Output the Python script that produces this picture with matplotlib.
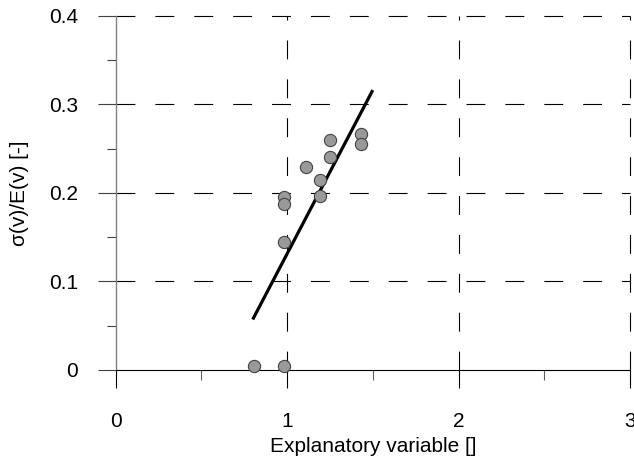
import matplotlib
matplotlib.use("Agg")
import matplotlib.pyplot as plt

# observations
x_obs = [0.98, 0.98, 1.11, 1.25, 1.25, 1.19, 1.19, 1.43, 1.43, 0.98, 0.81, 0.98]
y_obs = [0.195, 0.187, 0.229, 0.260, 0.240, 0.215, 0.197, 0.266, 0.255, 0.145, 0.005, 0.004]

# fitted line
fit_x = [0.80, 1.50]
fit_y = [0.057, 0.316]

x_ticks = [0, 1, 2, 3]
x_tick_labels = ["0", "1", "2", "3"]
x_minor = [0.5, 1.5, 2.5]
y_ticks = [0, 0.1, 0.2, 0.3, 0.4]
y_tick_labels = ["0", "0.1", "0.2", "0.3", "0.4"]
y_minor = [0.05, 0.15, 0.25, 0.35]

plt.rcParams["font.family"] = ["Liberation Sans", "DejaVu Sans"]
fs = 15

fig = plt.figure(figsize=(6.34, 4.59), dpi=100)
ax = fig.add_axes([0.1822, 0.1939, 0.8115, 0.7719])
ax.set_xlim(0, 3)
ax.set_ylim(0, 0.4)

# dashed grid, drawn past the axes limits so the edge lines are full width
dash = (0, (17, 18))
for xv in x_ticks[1:]:
    ax.axvline(xv, color="black", lw=0.8, ls=dash, clip_on=False, zorder=1)
for yv in y_ticks[1:]:
    ax.axhline(yv, color="black", lw=0.8, ls=dash, clip_on=False, zorder=1)

ax.plot(fit_x, fit_y, color="black", lw=2.3, solid_capstyle="butt", zorder=3)
ax.plot(x_obs, y_obs, "o", ms=8.8, mfc="#999999", mec="#444444", mew=0.8,
        zorder=4, clip_on=False)

ax.spines["top"].set_visible(False)
ax.spines["right"].set_visible(False)
ax.spines["left"].set_color("#808080")
ax.spines["left"].set_linewidth(1.0)
ax.spines["bottom"].set_color("black")
ax.spines["bottom"].set_linewidth(0.8)

ax.set_xticks(x_ticks)
ax.set_xticklabels(x_tick_labels)
ax.set_xticks(x_minor, minor=True)
ax.set_yticks(y_ticks)
ax.set_yticklabels(y_tick_labels)
ax.set_yticks(y_minor, minor=True)

ax.tick_params(axis="x", which="major", direction="out", length=13, width=0.8,
               color="black", pad=17, labelsize=fs)
ax.tick_params(axis="x", which="minor", direction="out", length=7, width=0.8,
               color="#606060")
ax.tick_params(axis="y", which="major", direction="out", length=13, width=0.8,
               color="#404040", pad=14, labelsize=fs)
ax.tick_params(axis="y", which="minor", direction="out", length=6.5, width=0.8,
               color="#404040")

ax.set_xlabel("Explanatory variable []", fontsize=fs)
ax.set_ylabel("σ(v)/E(v) [-]", fontsize=fs)
ax.xaxis.set_label_coords(0.5, -0.19)
ax.yaxis.set_label_coords(-0.168, 0.5)

fig.savefig("out.png", dpi=100)
